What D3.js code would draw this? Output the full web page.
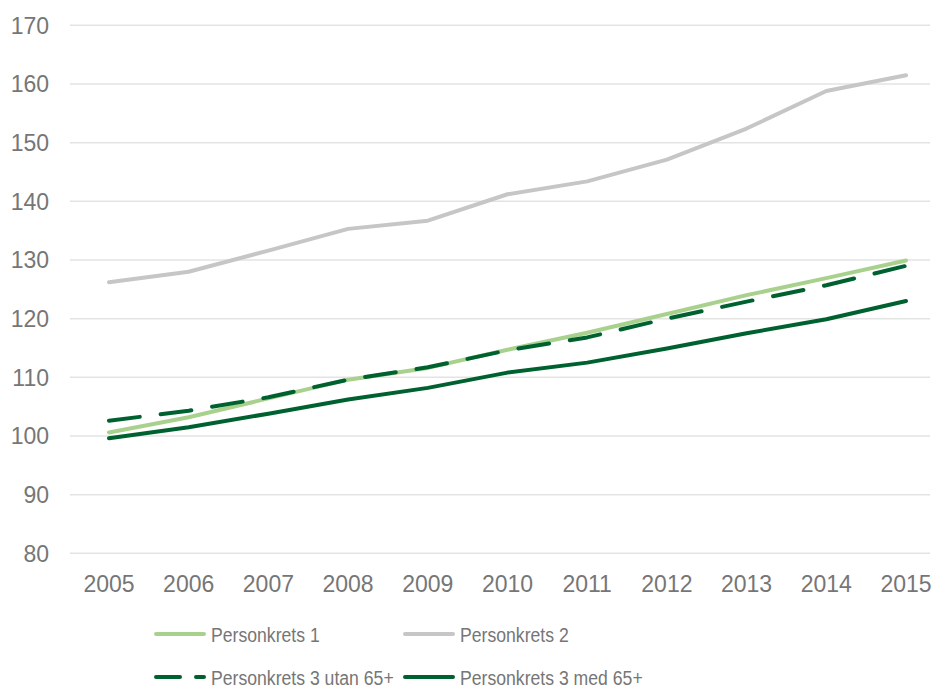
<!DOCTYPE html>
<html lang="en">
<head>
  <meta charset="utf-8"/>
  <script src="https://d3js.org/d3.v7.min.js"></script>
  <style>
    body { margin: 0; background: #fff; }
    .tick-label { font-family: "Liberation Sans", Arial, sans-serif; fill: #767676; }
  </style>
</head>
<body>
<div id="chart"></div>
<script>
  // Data
  const years = [2005, 2006, 2007, 2008, 2009, 2010, 2011, 2012, 2013, 2014, 2015];
  const pk1      = [100.6, 103.2, 106.4, 109.6, 111.6, 114.7, 117.6, 120.8, 124.0, 126.9, 129.9];
  const pk2      = [126.2, 128.0, 131.6, 135.3, 136.7, 141.2, 143.4, 147.1, 152.4, 158.8, 161.5];
  const pk3utan  = [102.6, 104.3, 106.6, 109.6, 111.7, 114.6, 116.8, 120.0, 122.9, 125.7, 129.0];
  const pk3med   = [99.6, 101.5, 103.8, 106.2, 108.2, 110.8, 112.5, 114.9, 117.5, 119.9, 123.0];
  const yTicks = [80, 90, 100, 110, 120, 130, 140, 150, 160, 170];

  const series = [
    {name: "Personkrets 1", values: pk1, color: "#a9d18e", dash: null},
    {name: "Personkrets 2", values: pk2, color: "#c6c6c6", dash: null},
    {name: "Personkrets 3 utan 65+", values: pk3utan, color: "#006130", dash: "31,21"},
    {name: "Personkrets 3 med 65+", values: pk3med, color: "#006130", dash: null}
  ];

  const width = 934, height = 686;
  const svg = d3.select("#chart").append("svg")
    .attr("width", width)
    .attr("height", height);

  const x = d3.scalePoint().domain(years).range([109, 906]);
  const y = d3.scaleLinear().domain([80, 170]).range([553.3, 25.3]);

  // Gridlines
  svg.append("g").selectAll("line")
    .data(yTicks)
    .enter().append("line")
    .attr("x1", 70).attr("x2", 930)
    .attr("y1", d => y(d)).attr("y2", d => y(d))
    .attr("stroke", "#e3e3e3")
    .attr("stroke-width", 1.5);

  // Y tick labels
  svg.append("g").selectAll("text")
    .data(yTicks)
    .enter().append("text")
    .attr("class", "tick-label")
    .attr("x", 49)
    .attr("y", d => y(d))
    .attr("dy", "0.36em")
    .attr("text-anchor", "end")
    .attr("font-size", "23px")
    .text(d => d);

  // X tick labels
  svg.append("g").selectAll("text")
    .data(years)
    .enter().append("text")
    .attr("class", "tick-label")
    .attr("x", d => x(d))
    .attr("y", 592)
    .attr("text-anchor", "middle")
    .attr("font-size", "23px")
    .text(d => d);

  // Lines
  const line = d3.line()
    .x((d, i) => x(years[i]))
    .y(d => y(d));

  svg.append("g").selectAll("path")
    .data(series)
    .enter().append("path")
    .attr("d", d => line(d.values))
    .attr("fill", "none")
    .attr("stroke", d => d.color)
    .attr("stroke-width", 4)
    .attr("stroke-linecap", "round")
    .attr("stroke-linejoin", "round")
    .attr("stroke-dasharray", d => d.dash);

  // Legend (text is a bit condensed in the original)
  const legendPos = [[154, 634], [403, 634], [154, 677], [403, 677]];
  const legend = svg.append("g").selectAll("g")
    .data(series)
    .enter().append("g")
    .attr("transform", (d, i) => `translate(${legendPos[i][0]},${legendPos[i][1]})`);

  legend.append("line")
    .attr("x1", 2).attr("x2", 50)
    .attr("stroke", d => d.color)
    .attr("stroke-width", 4)
    .attr("stroke-linecap", "round")
    .attr("stroke-dasharray", d => d.dash ? "24,16" : null);

  legend.append("text")
    .attr("class", "tick-label")
    .attr("transform", "translate(57,0) scale(0.84,1)")
    .attr("dy", "0.36em")
    .attr("font-size", "21px")
    .text(d => d.name);
</script>
</body>
</html>
